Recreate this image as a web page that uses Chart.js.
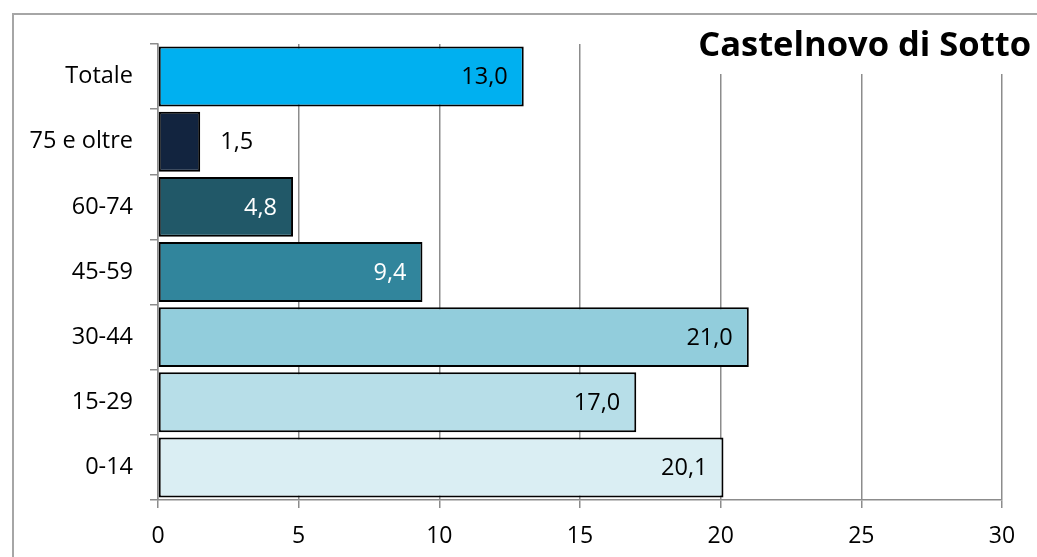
<!DOCTYPE html>
<html>
<head>
<meta charset="utf-8">
<script src="https://cdn.jsdelivr.net/npm/chart.js@4"></script>
<style>
html,body{margin:0;padding:0;background:#fff;overflow:hidden;}
#wrap{width:1037px;height:557px;position:relative;}
</style>
</head>
<body>
<div id="wrap"><canvas id="c" width="1037" height="557"></canvas></div>
<script>
const categories = ["Totale", "75 e oltre", "60-74", "45-59", "30-44", "15-29", "0-14"];
const values = [13.0, 1.5, 4.8, 9.4, 21.0, 17.0, 20.1];
const barColors = ["#00B0F0", "#12243F", "#215868", "#31859C", "#92CDDC", "#B7DEE8", "#DAEEF3"];
const labelColors = ["#000000", "#000000", "#FFFFFF", "#FFFFFF", "#000000", "#000000", "#000000"];
const xTicks = [0, 5, 10, 15, 20, 25, 30];
const titleText = "Castelnovo di Sotto";

const FONT = "'Open Sans', 'Liberation Sans', sans-serif";

const framePlugin = {
  id: 'frame',
  beforeDraw(chart) {
    const ctx = chart.ctx;
    ctx.save();
    ctx.strokeStyle = '#a6a6a6';
    ctx.lineWidth = 2;
    ctx.strokeRect(13, 14, 1100, 700);
    ctx.restore();
  },
  afterDatasetsDraw(chart) {
    const ctx = chart.ctx;
    const meta = chart.getDatasetMeta(0);
    ctx.save();
    ctx.font = "23.5px " + FONT;
    ctx.textBaseline = 'middle';
    meta.data.forEach((bar, i) => {
      const v = values[i];
      const txt = v.toFixed(1).replace('.', ',');
      if (v < 3) {
        ctx.fillStyle = '#000000';
        ctx.textAlign = 'left';
        ctx.fillText(txt, bar.x + 20, bar.y + 1);
      } else {
        ctx.fillStyle = labelColors[i];
        ctx.textAlign = 'right';
        ctx.fillText(txt, bar.x - 16, bar.y + 1);
      }
    });
    ctx.restore();
  },
  afterDraw(chart) {
    const ctx = chart.ctx;
    ctx.save();
    ctx.fillStyle = '#ffffff';
    ctx.fillRect(688, 18, 349, 56);
    ctx.fillStyle = '#000000';
    ctx.font = "bold 34.5px " + FONT;
    ctx.textAlign = 'right';
    ctx.textBaseline = 'alphabetic';
    ctx.fillText(titleText, 1031, 56);
    ctx.restore();
  }
};

new Chart(document.getElementById('c'), {
  type: 'bar',
  data: {
    labels: categories,
    datasets: [{
      data: values,
      backgroundColor: barColors,
      borderColor: '#000000',
      borderWidth: 2,
      borderSkipped: false,
      barPercentage: 0.92,
      categoryPercentage: 1.0
    }]
  },
  options: {
    indexAxis: 'y',
    responsive: false,
    animation: false,
    devicePixelRatio: 1,
    layout: { padding: { left: 0, right: 35, top: 44, bottom: 0 } },
    plugins: { legend: { display: false }, tooltip: { enabled: false }, title: { display: false } },
    scales: {
      x: {
        min: 0, max: 30,
        afterBuildTicks(scale) { scale.ticks = xTicks.map(v => ({ value: v })); },
        afterFit(scale) { scale.height = 57; },
        ticks: { font: { family: FONT, size: 23 }, color: '#000000', padding: 15 },
        grid: { color: '#8c8c8c', lineWidth: 1.5, tickLength: 8 },
        border: { display: true, color: '#8c8c8c', width: 1.5 }
      },
      y: {
        afterFit(scale) { scale.width = 158; },
        ticks: { font: { family: FONT, size: 23.5 }, color: '#000000', padding: 17 },
        grid: { drawOnChartArea: false, color: '#8c8c8c', lineWidth: 1.5, tickLength: 8 },
        border: { display: true, color: '#8c8c8c', width: 1.5 }
      }
    }
  },
  plugins: [framePlugin]
});
</script>
</body>
</html>
